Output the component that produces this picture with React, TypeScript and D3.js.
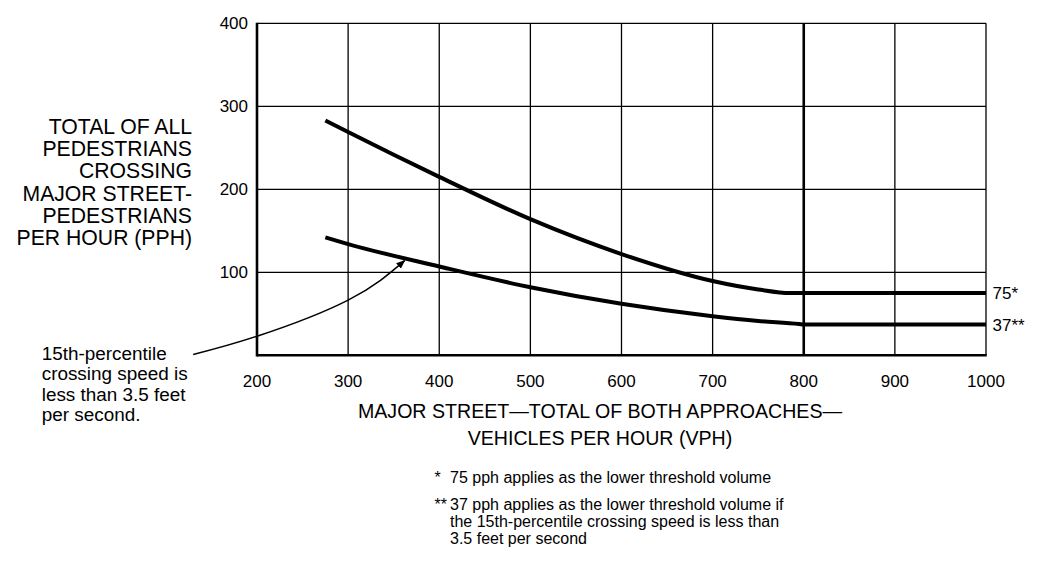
import React from "react";
import * as d3 from "d3";

const xTicks = [200, 300, 400, 500, 600, 700, 800, 900, 1000];
const yTicks = [0, 100, 200, 300, 400];

const upperX = [275, 300, 400, 500, 600, 700, 750, 785, 800, 900, 1000];
const upperY = [283, 269, 215, 164, 122, 89.5, 79.3, 75, 75, 75, 75];
const lowerX = [275, 300, 400, 500, 600, 700, 750, 795, 800, 900, 1000];
const lowerY = [142, 134, 107, 82, 62, 47, 41.3, 37.6, 37, 37, 37];

const endLabels = ["75*", "37**"];
const endValues = [75, 37];

const yTitle = ["TOTAL OF ALL", "PEDESTRIANS", "CROSSING", "MAJOR STREET-", "PEDESTRIANS", "PER HOUR (PPH)"];
const xTitle = ["MAJOR STREET\u2014TOTAL OF BOTH APPROACHES\u2014", "VEHICLES PER HOUR (VPH)"];
const noteLines = ["15th-percentile", "crossing speed is", "less than 3.5 feet", "per second."];
const arrowX = [130, 200, 300, 362];
const arrowY = [1, 23, 66.5, 114];
const footMarks = ["*", "**", "", ""];
const footLines = [
  "75 pph applies as the lower threshold volume",
  "37 pph applies as the lower threshold volume if",
  "the 15th-percentile crossing speed is less than",
  "3.5 feet per second",
];

const FONT = "'Liberation Sans', Arial, Helvetica, sans-serif";

export default function App() {
  const x = d3.scaleLinear().domain([200, 1000]).range([257, 986]);
  const y = d3.scaleLinear().domain([0, 400]).range([355.3, 23.3]);

  const line = d3
    .line<[number, number]>()
    .x((d) => x(d[0]))
    .y((d) => y(d[1]))
    .curve(d3.curveMonotoneX);

  const upper = upperX.map((v, i) => [v, upperY[i]] as [number, number]);
  const lower = lowerX.map((v, i) => [v, lowerY[i]] as [number, number]);

  const arrowLine = d3
    .line<[number, number]>()
    .x((d) => x(d[0]))
    .y((d) => y(d[1]))
    .curve(d3.curveNatural);
  const arrowPts = arrowX.map((v, i) => [v, arrowY[i]] as [number, number]);

  const x0 = x(200), x1 = x(1000), y0 = y(0), y1 = y(400);

  return (
    <svg
      width={1041}
      height={564}
      style={{ position: "absolute", left: 0, top: 0, background: "#fff" }}
      fontFamily={FONT}
    >
      <defs>
        <marker id="ah" viewBox="0 0 10 10" refX="9" refY="5" markerWidth="9" markerHeight="9" markerUnits="userSpaceOnUse" orient="auto">
          <path d="M0,1 L10,5 L0,9 Z" fill="#000" />
        </marker>
      </defs>
      <rect x={0} y={0} width={1041} height={564} fill="#fff" />
      {/* grid */}
      {xTicks.slice(1, -1).map((t) => (
        <line key={"gx" + t} x1={x(t)} x2={x(t)} y1={y1} y2={y0} stroke="#000" strokeWidth={t === 800 ? 2.6 : 1.3} />
      ))}
      {yTicks.slice(1, -1).map((t) => (
        <line key={"gy" + t} x1={x0} x2={x1} y1={y(t)} y2={y(t)} stroke="#000" strokeWidth={1.3} />
      ))}
      {/* borders */}
      <line x1={x0} x2={x1} y1={y1} y2={y1} stroke="#000" strokeWidth={1.3} />
      <line x1={x1} x2={x1} y1={y1} y2={y0} stroke="#000" strokeWidth={1.3} />
      <line x1={x0} x2={x1 + 0.7} y1={y0} y2={y0} stroke="#000" strokeWidth={2.6} />
      <line x1={x0} x2={x0} y1={y1 - 0.6} y2={y0 + 1.3} stroke="#000" strokeWidth={2.6} />

      {/* curves */}
      <path d={line(upper) || ""} fill="none" stroke="#000" strokeWidth={4} />
      <path d={line(lower) || ""} fill="none" stroke="#000" strokeWidth={4} />

      {/* tick labels */}
      {yTicks.slice(1).map((t) => (
        <text key={"ty" + t} x={x0 - 9} y={y(t)} dy="0.35em" textAnchor="end" fontSize={17}>
          {t}
        </text>
      ))}
      {xTicks.map((t) => (
        <text key={"tx" + t} x={x(t)} y={386.8} textAnchor="middle" fontSize={17}>
          {t}
        </text>
      ))}

      {/* end labels */}
      {endLabels.map((l, i) => (
        <text key={l} x={x1 + 6.5} y={y(endValues[i])} dy="0.35em" fontSize={17}>
          {l}
        </text>
      ))}

      {/* y title */}
      {yTitle.map((l, i) => (
        <text key={"yt" + i} x={192} y={134 + i * 22.2} textAnchor="end" fontSize={21.2}>
          {l}
        </text>
      ))}

      {/* x title */}
      {xTitle.map((l, i) => (
        <text key={"xt" + i} x={600} y={418.3 + i * 26.3} textAnchor="middle" fontSize={19.6}>
          {l}
        </text>
      ))}

      {/* annotation */}
      {noteLines.map((l, i) => (
        <text key={"n" + i} x={41.7} y={360 + i * 20.3} fontSize={18.9}>
          {l}
        </text>
      ))}
      <path d={arrowLine(arrowPts) || ""} fill="none" stroke="#000" strokeWidth={1.5} markerEnd="url(#ah)" />

      {/* footnotes */}
      {footLines.map((l, i) => {
        const by = i === 0 ? 482.7 : 509.5 + (i - 1) * 17.2;
        return (
          <g key={"f" + i}>
            {footMarks[i] && (
              <text x={434.5} y={by} fontSize={16}>
                {footMarks[i]}
              </text>
            )}
            <text x={450} y={by} fontSize={16}>
              {l}
            </text>
          </g>
        );
      })}
    </svg>
  );
}
